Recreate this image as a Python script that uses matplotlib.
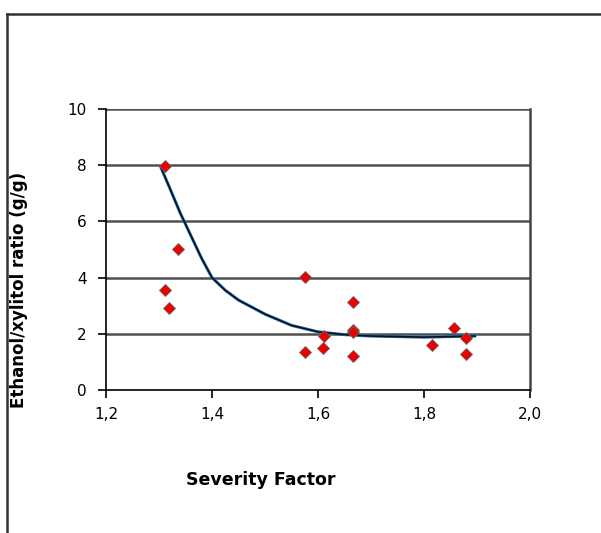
import matplotlib
matplotlib.use("Agg")
import matplotlib.pyplot as plt
from matplotlib.lines import Line2D

# measured points
severity = [1.311, 1.336, 1.311, 1.319, 1.575, 1.575, 1.611, 1.609,
            1.666, 1.666, 1.666, 1.666, 1.815, 1.857, 1.879, 1.879]
ratio = [7.97, 5.02, 3.56, 2.92, 4.02, 1.35, 1.92, 1.49,
         3.13, 2.14, 2.05, 1.21, 1.60, 2.21, 1.85, 1.28]

# trend line
trend_x = [1.304, 1.32, 1.34, 1.36, 1.38, 1.40, 1.425, 1.45, 1.50,
           1.55, 1.60, 1.65, 1.70, 1.80, 1.896]
trend_y = [7.90, 7.20, 6.30, 5.50, 4.70, 4.00, 3.55, 3.20, 2.70,
           2.30, 2.07, 1.97, 1.92, 1.88, 1.92]

xticks = [1.2, 1.4, 1.6, 1.8, 2.0]
xtick_labels = ["1,2", "1,4", "1,6", "1,8", "2,0"]
yticks = [0, 2, 4, 6, 8, 10]

plt.rcParams["font.family"] = ["DejaVu Sans"]

fig = plt.figure(figsize=(6.01, 5.33), dpi=100)
ax = fig.add_axes([106 / 601, 1 - 390 / 533, 424 / 601, 281 / 533])

for y in yticks[1:]:
    ax.axhline(y, color="#505050", lw=1.8, zorder=1)

ax.plot(trend_x, trend_y, color="#1f78c8", lw=2.2, zorder=2)
ax.plot(trend_x, trend_y, color="#111111", lw=1.2, zorder=3)
ax.plot(severity, ratio, "D", color="#ee0000", markeredgecolor="#666666",
        markeredgewidth=0.6, markersize=6.5, linestyle="none", zorder=4)

ax.set_xlim(1.2, 2.0)
ax.set_ylim(0, 10)
ax.set_xticks(xticks)
ax.set_xticklabels(xtick_labels)
ax.set_yticks(yticks)
ax.tick_params(direction="out", length=6, width=1.2, labelsize=11)
ax.tick_params(axis="y", pad=8)
ax.tick_params(axis="x", pad=6)

for side in ["left", "bottom"]:
    ax.spines[side].set_color("black")
    ax.spines[side].set_linewidth(1.2)
ax.spines["top"].set_visible(False)
ax.spines["right"].set_color("#444444")
ax.spines["right"].set_linewidth(1.8)

fig.text(261 / 601, 1 - 480 / 533, "Severity Factor", ha="center", va="center",
         fontsize=12.5, fontweight="bold")
fig.text(19 / 601, 1 - 290 / 533, "Ethanol/xylitol ratio (g/g)", ha="center",
         va="center", rotation=90, fontsize=12, fontweight="bold")

# outer chart border (cropped at right and bottom)
top = 1 - 14 / 533
left = 7 / 601
fig.add_artist(Line2D([left, 1.0], [top, top], color="#333333", lw=1.8))
fig.add_artist(Line2D([left, left], [0.0, top], color="#333333", lw=1.8))

fig.savefig("out.png", dpi=100)
